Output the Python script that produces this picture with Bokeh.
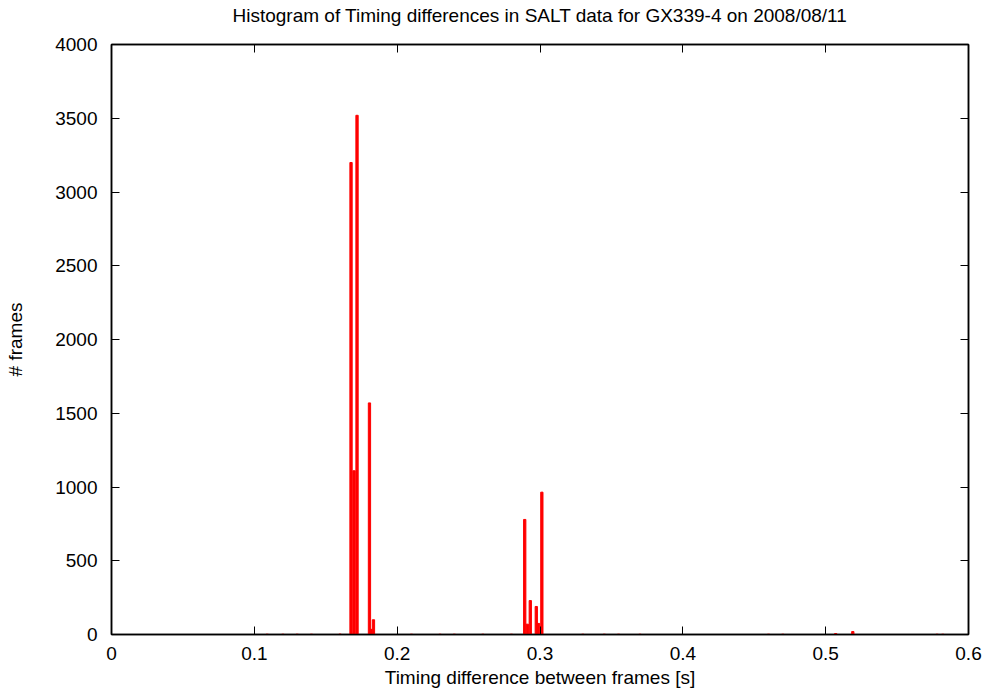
from bokeh.plotting import figure
from bokeh.models import LinearAxis, FixedTicker, Range1d, CustomJSTickFormatter
from bokeh.embed import file_html
from bokeh.resources import INLINE

# histogram bins (timing difference, s) and counts
bin_centers = [0.1677, 0.1698, 0.1719, 0.1806, 0.1817, 0.1834,
               0.2893, 0.2911, 0.2932, 0.2974, 0.2990, 0.3013,
               0.5070, 0.5190]
counts = [3200, 1110, 3520, 1570, 35, 100,
          780, 70, 230, 190, 75, 965,
          6, 20]

# sparse low counts along the baseline
low_centers = [0.1090, 0.1200, 0.1300, 0.1400, 0.1600, 0.2100, 0.2300,
               0.2400, 0.2600, 0.2800, 0.3300, 0.3450, 0.3550, 0.3700,
               0.4600, 0.4700, 0.5780, 0.5820]
low_counts = [2, 2, 2, 2, 3, 2, 2, 2, 2, 2, 2, 2, 2, 2, 2, 2, 2, 2]

x_ticks = [0.0, 0.1, 0.2, 0.3, 0.4, 0.5, 0.6]
y_ticks = [0, 500, 1000, 1500, 2000, 2500, 3000, 3500, 4000]

title = "Histogram of Timing differences in SALT data for GX339-4 on 2008/08/11"
x_label = "Timing difference between frames [s]"
y_label = "# frames"

FONT = "Liberation Sans"
FS = "19px"

p = figure(width=988, height=699, output_backend="svg", toolbar_location=None,
           x_range=Range1d(0, 0.6), y_range=Range1d(0, 4000),
           min_border_left=111, min_border_right=20, min_border_top=44,
           min_border_bottom=65)

p.grid.visible = False
p.outline_line_color = "black"
p.outline_line_width = 1.5
p.background_fill_color = "white"
p.border_fill_color = "white"

p.vbar(x=low_centers, top=low_counts, width=0.0016, bottom=0, color="#ff0000")
p.vbar(x=bin_centers, top=counts, width=0.0016, bottom=0, color="#ff0000")

xt = FixedTicker(ticks=x_ticks, minor_ticks=[])
yt = FixedTicker(ticks=y_ticks, minor_ticks=[])

bottom = p.below[0]
left = p.left[0]
bottom.ticker = xt
left.ticker = yt

empty = CustomJSTickFormatter(code="return ''")

top = LinearAxis(ticker=xt, formatter=empty)
right = LinearAxis(ticker=yt, formatter=empty)
p.add_layout(top, "above")
p.add_layout(right, "right")

for ax in [bottom, left, top, right]:
    ax.major_tick_in = 8
    ax.major_tick_out = 0
    ax.minor_tick_in = 0
    ax.minor_tick_out = 0
    ax.major_tick_line_color = "black"
    ax.major_tick_line_width = 1
    ax.axis_line_color = "black"
    ax.axis_line_width = 1.5
    ax.major_label_text_font = FONT
    ax.major_label_text_font_size = FS
    ax.major_label_text_color = "black"
    ax.axis_label_text_font = FONT
    ax.axis_label_text_font_size = FS
    ax.axis_label_text_font_style = "normal"
    ax.axis_label_text_color = "black"

for ax in [top, right]:
    ax.major_label_standoff = 0
    ax.major_label_text_font_size = "0px"

# chart title carried by the mirrored top axis
top.axis_label = title
top.axis_label_standoff = 19

bottom.axis_label = x_label
left.axis_label = y_label
bottom.major_label_standoff = 12
bottom.axis_label_standoff = 4
left.major_label_standoff = 14
left.axis_label_standoff = 26
left.major_label_orientation = "horizontal"

open("out.html", "w").write(file_html(p, INLINE))
